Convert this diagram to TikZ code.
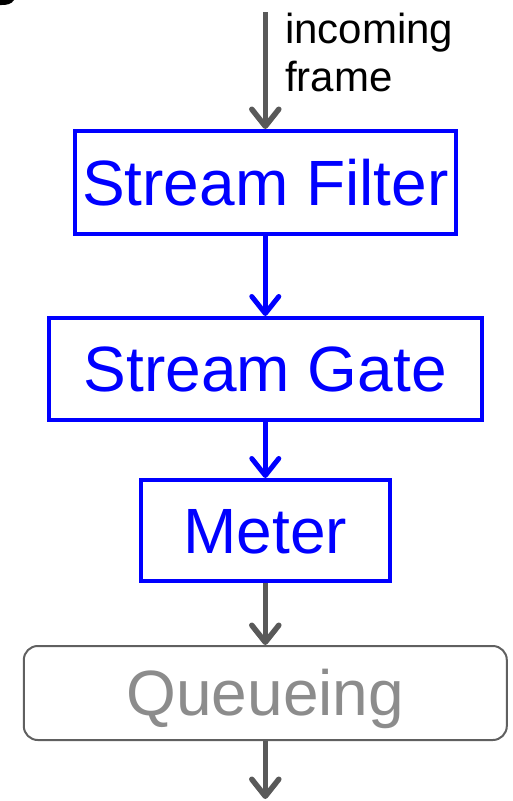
\documentclass[tikz,border=0pt]{standalone}
\usepackage{fontspec}
\setmainfont{Liberation Sans}
\usetikzlibrary{arrows.meta}
\definecolor{flowgray}{HTML}{595959}
\definecolor{boxgray}{HTML}{606060}
\definecolor{textgray}{HTML}{8C8C8C}
\definecolor{pureblue}{HTML}{0000FF}
\tikzset{
  stagebox/.style={draw=pureblue, line width=4pt, text=pureblue,
    font=\fontsize{64}{64}\selectfont, text height=45.8pt, text depth=0pt,
    inner sep=0pt},
  queuebox/.style={draw=boxgray, line width=2pt, rounded corners=14pt,
    text=textgray, font=\fontsize{64}{64}\selectfont, text height=45.8pt,
    text depth=0pt, inner sep=0pt},
  tip/.style={-{Straight Barb[length=17pt,width=27pt,round]}},
  grayflow/.style={tip, draw=flowgray, line width=5.5pt},
  blueflow/.style={tip, draw=pureblue, line width=5pt},
  note/.style={font=\fontsize{42}{48}\selectfont, anchor=base west, inner sep=0pt}
}
\begin{document}
\begin{tikzpicture}[x=1pt, y=-1pt]
  \useasboundingbox (0,0) rectangle (512,801);
  % fragment of a glyph cut by the top edge
  \fill[black] (0,0) -- (14,0) .. controls (12,4) and (6,5.5) .. (0,5) -- cycle;

  % stages of the per-stream pipeline
  \node[stagebox, minimum width=381pt, minimum height=103pt] (filter) at (265.3,182.5) {Stream Filter};
  \node[stagebox, minimum width=433pt, minimum height=102pt] (gate) at (265.3,369) {Stream Gate};
  \node[stagebox, minimum width=249pt, minimum height=101pt] (meter) at (265.3,530.5) {Meter};
  \node[queuebox, minimum width=483pt, minimum height=94pt] (queue) at (265.3,693) {Queueing};

  % incoming label
  \node[note] (inc1) at (285,43) {incoming};
  \node[note] (inc2) at (285,91) {frame};

  % free ends of the flow
  \coordinate (src) at (265.3,12);
  \coordinate (sink) at (265.3,799);

  % connectors
  \draw[grayflow] (src) -- (filter.north);
  \draw[blueflow] (filter.south) -- (gate.north);
  \draw[blueflow] (gate.south) -- (meter.north);
  \draw[grayflow] (meter.south) -- (queue.north);
  \draw[grayflow] (queue.south) -- (sink);
\end{tikzpicture}
\end{document}
